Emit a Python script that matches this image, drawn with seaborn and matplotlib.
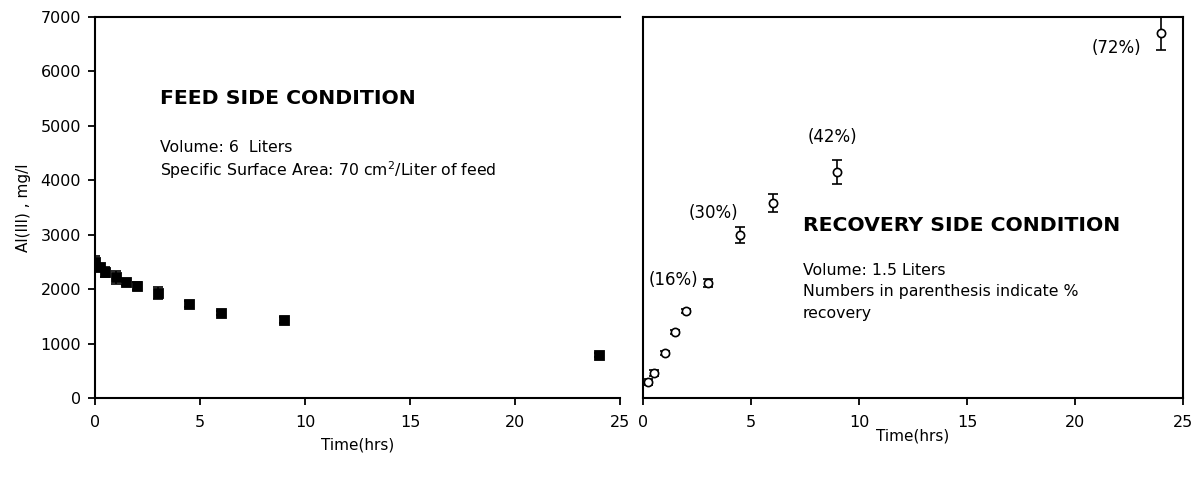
import numpy as np
import pandas as pd
import seaborn as sns
import matplotlib.pyplot as plt

# feed side (filled markers)
feed_time = [0, 0.25, 0.5, 1, 1.5, 2, 3, 4.5, 6, 9, 24]
feed_al = [2500, 2400, 2310, 2220, 2130, 2055, 1930, 1725, 1560, 1430, 790]
feed_err = [100, 70, 90, 120, 50, 70, 110, 60, 40, 50, 40]

# recovery side (open markers)
rec_time = [0.25, 0.5, 1, 1.5, 2, 3, 4.5, 6, 9, 24]
rec_al = [290, 460, 825, 1210, 1600, 2110, 2990, 3580, 4150, 6700]
rec_err = [60, 50, 40, 40, 40, 80, 150, 170, 220, 300]

rec_labels = ["(16%)", "(30%)", "(42%)", "(72%)"]
rec_label_x = [1.4, 3.24, 8.75, 21.9]
rec_label_y = [2170, 3400, 4800, 6430]

x_ticks = [0, 5, 10, 15, 20, 25]
y_ticks = [0, 1000, 2000, 3000, 4000, 5000, 6000, 7000]

feed = pd.DataFrame({"time": feed_time, "al": feed_al, "err": feed_err})
rec = pd.DataFrame({"time": rec_time, "al": rec_al, "err": rec_err})

sns.set_theme(style="white")
plt.rcParams["font.family"] = ["DejaVu Sans"]
plt.rcParams["text.color"] = "black"
plt.rcParams["axes.labelcolor"] = "black"
plt.rcParams["xtick.color"] = "black"
plt.rcParams["ytick.color"] = "black"

fig = plt.figure(figsize=(11.96, 4.83), dpi=100)
ax1 = fig.add_axes([0.0794, 0.176, 0.439, 0.789])
ax2 = fig.add_axes([0.5376, 0.176, 0.4515, 0.789])

# left panel
ax1.errorbar(feed["time"], feed["al"], yerr=feed["err"], fmt="none",
             ecolor="black", elinewidth=1.2, capsize=3.5, capthick=1.2, zorder=2)
sns.scatterplot(data=feed, x="time", y="al", ax=ax1, marker="s", s=55,
                color="black", edgecolor="black", zorder=3)
ax1.set_xlim(0, 25)
ax1.set_ylim(0, 7000)
ax1.set_xticks(x_ticks)
ax1.set_yticks(y_ticks)
ax1.set_xlabel("Time(hrs)", fontsize=11, labelpad=6)
ax1.set_ylabel("Al(III) , mg/l", fontsize=11, labelpad=7)
for s in ["left", "bottom", "top"]:
    ax1.spines[s].set_color("black")
    ax1.spines[s].set_linewidth(1.5)
ax1.spines["right"].set_visible(False)
ax1.tick_params(axis="both", which="both", direction="out", length=5, width=1.3,
                color="black", labelsize=11.5, pad=5, bottom=True, left=True)
ax1.tick_params(axis="x", pad=7)

ax1.text(3.1, 5510, "FEED SIDE CONDITION", fontsize=14.7, fontweight="bold", va="center")
ax1.text(3.1, 4600, "Volume: 6  Liters", fontsize=11.3, va="center")
ax1.text(3.1, 4190, "Specific Surface Area: 70 cm$^{2}$/Liter of feed", fontsize=11.3, va="center")

# right panel
ax2.errorbar(rec["time"], rec["al"], yerr=rec["err"], fmt="none",
             ecolor="black", elinewidth=1.2, capsize=3.5, capthick=1.2, zorder=2)
sns.scatterplot(data=rec, x="time", y="al", ax=ax2, marker="o", s=35,
                facecolor="white", edgecolor="black", linewidth=1.2, zorder=3)
ax2.set_xlim(0, 25)
ax2.set_ylim(0, 7000)
ax2.set_xticks(x_ticks)
ax2.set_yticks([])
ax2.set_xlabel("Time(hrs)", fontsize=11, labelpad=-1)
ax2.set_ylabel("")
for s in ["left", "bottom", "top", "right"]:
    ax2.spines[s].set_color("black")
    ax2.spines[s].set_linewidth(1.5)
ax2.tick_params(axis="x", direction="out", length=5, width=1.3, color="black",
                labelsize=11.5, pad=7, bottom=True)

for lab, lx, ly in zip(rec_labels, rec_label_x, rec_label_y):
    ax2.text(lx, ly, lab, fontsize=12, ha="center", va="center")

ax2.text(7.4, 3160, "RECOVERY SIDE CONDITION", fontsize=14.7, fontweight="bold", va="center")
ax2.text(7.4, 2350, "Volume: 1.5 Liters", fontsize=11.3, va="center")
ax2.text(7.4, 1960, "Numbers in parenthesis indicate %", fontsize=11.3, va="center")
ax2.text(7.4, 1560, "recovery", fontsize=11.3, va="center")

fig.savefig("out.png", dpi=100)
